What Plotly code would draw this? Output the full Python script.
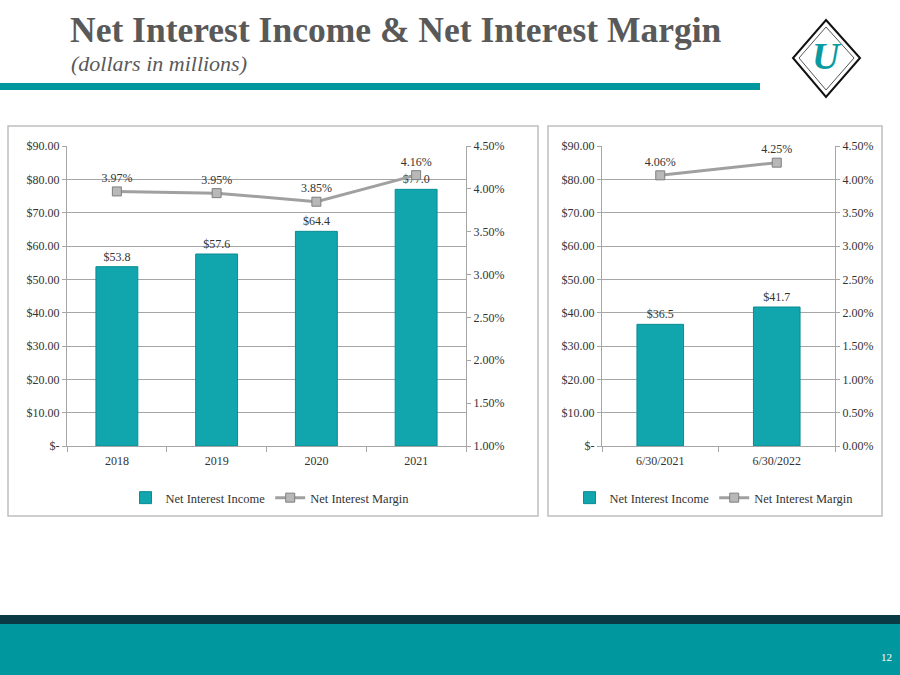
import plotly.graph_objects as go

W, H = 900, 675

years = ["2018", "2019", "2020", "2021"]
nii_annual = [53.8, 57.6, 64.4, 77.0]
nim_annual = [3.97, 3.95, 3.85, 4.16]

periods = ["6/30/2021", "6/30/2022"]
nii_ytd = [36.5, 41.7]
nim_ytd = [4.06, 4.25]

dollar_ticks = [0, 10, 20, 30, 40, 50, 60, 70, 80, 90]
dollar_text = ["$-", "$10.00", "$20.00", "$30.00", "$40.00", "$50.00", "$60.00", "$70.00", "$80.00", "$90.00"]
pct_ticks_l = [1.0, 1.5, 2.0, 2.5, 3.0, 3.5, 4.0, 4.5]
pct_ticks_r = [0.0, 0.5, 1.0, 1.5, 2.0, 2.5, 3.0, 3.5, 4.0, 4.5]

TEAL = "#11A5AE"
GRAY = "#A6A6A6"
SERIF = "Liberation Serif"
TXT = "#333333"


def px(x):
    return x / W


def py(y):
    return 1 - y / H


fig = go.Figure()

# Left chart
fig.add_trace(go.Bar(x=years, y=nii_annual, name="Net Interest Income", marker=dict(color=TEAL, line=dict(color="#0B8C94", width=1)),
                     text=[f"${v:.1f}" for v in nii_annual], textposition="outside", cliponaxis=False,
                     textfont=dict(family=SERIF, size=12, color=TXT), width=0.42, xaxis="x", yaxis="y", legend="legend"))
fig.add_trace(go.Scatter(x=years, y=nim_annual, name="Net Interest Margin", mode="lines+markers+text",
                         line=dict(color="#A0A0A0", width=3), marker=dict(symbol="square", size=9, color="#B8B8B8", line=dict(color="#7F7F7F", width=1)),
                         text=[f"{v:.2f}%" for v in nim_annual], textposition="top center", cliponaxis=False,
                         textfont=dict(family=SERIF, size=12, color=TXT), xaxis="x", yaxis="y2", legend="legend"))

# Right chart
fig.add_trace(go.Bar(x=periods, y=nii_ytd, name="Net Interest Income", marker=dict(color=TEAL, line=dict(color="#0B8C94", width=1)),
                     text=[f"${v:.1f}" for v in nii_ytd], textposition="outside", cliponaxis=False,
                     textfont=dict(family=SERIF, size=12, color=TXT), width=0.4, xaxis="x2", yaxis="y3", legend="legend2"))
fig.add_trace(go.Scatter(x=periods, y=nim_ytd, name="Net Interest Margin", mode="lines+markers+text",
                         line=dict(color="#A0A0A0", width=3), marker=dict(symbol="square", size=9, color="#B8B8B8", line=dict(color="#7F7F7F", width=1)),
                         text=[f"{v:.2f}%" for v in nim_ytd], textposition="top center", cliponaxis=False,
                         textfont=dict(family=SERIF, size=12, color=TXT), xaxis="x2", yaxis="y4", legend="legend2"))

tickfont = dict(family=SERIF, size=12, color=TXT)
ycommon = dict(showgrid=True, gridcolor=GRAY, gridwidth=1, showline=True, linecolor=GRAY, ticks="outside",
               ticklen=4, tickcolor=GRAY, tickfont=tickfont, zeroline=False, fixedrange=True, automargin=False)
xcommon = dict(showline=True, linecolor=GRAY, ticks="outside", tickson="boundaries", ticklen=5, tickcolor=GRAY,
               tickfont=tickfont, showgrid=False, type="category", automargin=False, ticklabelstandoff=4)
y2common = dict(showgrid=False, showline=True, linecolor=GRAY, ticks="outside", ticklen=4, tickcolor=GRAY,
                tickfont=tickfont, zeroline=False, automargin=False)

fig.update_layout(
    width=W, height=H, margin=dict(l=0, r=0, t=0, b=0, pad=0, autoexpand=False),
    paper_bgcolor="white", plot_bgcolor="white",
    showlegend=True, bargap=0.6,
    xaxis=dict(domain=[px(67), px(466)], anchor="y", **xcommon),
    yaxis=dict(domain=[py(446), py(146)], range=[0, 90], tickvals=dollar_ticks, ticktext=dollar_text, **ycommon),
    yaxis2=dict(overlaying="y", side="right", anchor="x", range=[1.0, 4.5], tickvals=pct_ticks_l,
                ticktext=[f"{v:.2f}%" for v in pct_ticks_l], **y2common),
    xaxis2=dict(domain=[px(602), px(835)], anchor="y3", **xcommon),
    yaxis3=dict(domain=[py(446), py(146)], range=[0, 90], tickvals=dollar_ticks, ticktext=dollar_text, anchor="x2", **ycommon),
    yaxis4=dict(overlaying="y3", side="right", anchor="x2", range=[0, 4.5], tickvals=pct_ticks_r,
                ticktext=[f"{v:.2f}%" for v in pct_ticks_r], **y2common),
    legend=dict(orientation="h", x=px(270), xanchor="center", y=py(498), yanchor="middle",
                font=dict(family=SERIF, size=12.5, color=TXT), bgcolor="rgba(0,0,0,0)", itemwidth=30, tracegroupgap=0),
    legend2=dict(orientation="h", x=px(714), xanchor="center", y=py(498), yanchor="middle",
                 font=dict(family=SERIF, size=12.5, color=TXT), bgcolor="rgba(0,0,0,0)", itemwidth=30, tracegroupgap=0),
)

shapes = []
# chart boxes
shapes.append(dict(type="rect", xref="paper", yref="paper", x0=px(8), x1=px(538), y0=py(516), y1=py(126),
                   line=dict(color="#BFBFBF", width=1.5), layer="below"))
shapes.append(dict(type="rect", xref="paper", yref="paper", x0=px(548), x1=px(882), y0=py(516), y1=py(126),
                   line=dict(color="#BFBFBF", width=1.5), layer="below"))
# header teal bar
shapes.append(dict(type="rect", xref="paper", yref="paper", x0=0, x1=px(760), y0=py(90), y1=py(83),
                   fillcolor="#00979E", line=dict(width=0)))
# footer bands
shapes.append(dict(type="rect", xref="paper", yref="paper", x0=0, x1=1, y0=py(624), y1=py(615),
                   fillcolor="#0A3A44", line=dict(width=0)))
shapes.append(dict(type="rect", xref="paper", yref="paper", x0=0, x1=1, y0=0, y1=py(624),
                   fillcolor="#00979E", line=dict(width=0)))


def pt(x, y):
    return f"{px(x):.5f},{py(y):.5f}"


# logo diamond
shapes.append(dict(type="path", xref="paper", yref="paper",
                   path=f"M {pt(826,20)} L {pt(860,58)} L {pt(826,97)} L {pt(793,58)} Z",
                   fillcolor="white", line=dict(color="#111111", width=2)))
shapes.append(dict(type="path", xref="paper", yref="paper",
                   path=f"M {pt(826,27)} L {pt(854,58)} L {pt(826,90)} L {pt(799,58)} Z",
                   fillcolor="white", line=dict(color="#555555", width=1)))
fig.update_layout(shapes=shapes)

annotations = [
    dict(text="<b>Net Interest Income & Net Interest Margin</b>", x=px(68), y=py(30), xref="paper", yref="paper",
         xanchor="left", yanchor="middle", showarrow=False, font=dict(family=SERIF, size=35.5, color="#595959")),
    dict(text="<i>(dollars in millions)</i>", x=px(69), y=py(63), xref="paper", yref="paper",
         xanchor="left", yanchor="middle", showarrow=False, font=dict(family=SERIF, size=22, color="#595959")),
    dict(text="<b><i>U</i></b>", x=px(827), y=py(56), xref="paper", yref="paper",
         xanchor="center", yanchor="middle", showarrow=False, font=dict(family=SERIF, size=38, color="#0B9AA2")),
    dict(text="12", x=px(886), y=py(657), xref="paper", yref="paper",
         xanchor="center", yanchor="middle", showarrow=False, font=dict(family=SERIF, size=11, color="white")),
]
fig.update_layout(annotations=annotations)

fig.write_html("out.html")
